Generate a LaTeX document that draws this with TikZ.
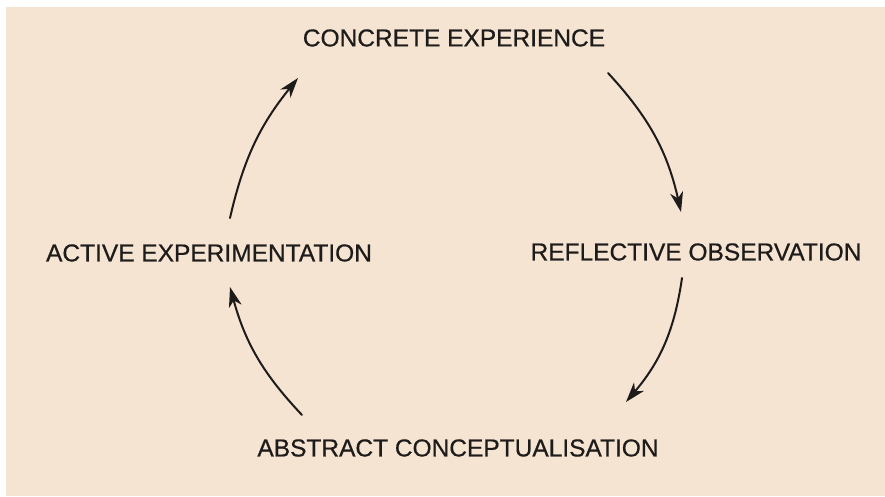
\documentclass[tikz,border=0pt]{standalone}
\usepackage{fontspec}
\setmainfont{Liberation Sans}
\usetikzlibrary{arrows.meta}
\definecolor{paper}{RGB}{245,228,210}
\definecolor{ink}{RGB}{30,28,26}

\begin{document}
\begin{tikzpicture}[x=1pt, y=1pt,
  >={Stealth[length=20pt, width=13pt, inset=6pt]},
  stage/.style={text=ink, inner sep=0pt,
    font=\fontsize{24.5}{29}\selectfont\addfontfeature{FakeBold=0.6}},
  cycle/.style={->, ink, line width=2pt, line cap=round}]

% ===== Paper =====
\fill[white] (0,0) rectangle (885,497);
\fill[paper] (6,1) rectangle (885,490);
\useasboundingbox (0,0) rectangle (885,497);

% ===== Stages =====
\node[stage] (ce) at (454,459) {CONCRETE EXPERIENCE};
\node[stage] (ro) at (696,245) {REFLECTIVE OBSERVATION};
\node[stage] (ac) at (458,49)  {ABSTRACT CONCEPTUALISATION};
\node[stage] (ae) at (209,244) {ACTIVE EXPERIMENTATION};

% Arrow ends, just off the labels
\coordinate (ce-out) at (608,424);
\coordinate (ro-in)  at (681,285);
\coordinate (ro-out) at (682,219);
\coordinate (ac-in)  at (626,95);
\coordinate (ac-out) at (302,82);
\coordinate (ae-in)  at (230,210);
\coordinate (ae-out) at (230,279);
\coordinate (ce-in)  at (298,419);

% ===== Cycle =====
\draw[cycle] (ce-out) to[bend left=15] (ro-in);
\draw[cycle] (ro-out) to[bend left=16] (ac-in);
\draw[cycle] (ac-out) to[bend left=14] (ae-in);
\draw[cycle] (ae-out) to[bend left=13] (ce-in);

\end{tikzpicture}
\end{document}
